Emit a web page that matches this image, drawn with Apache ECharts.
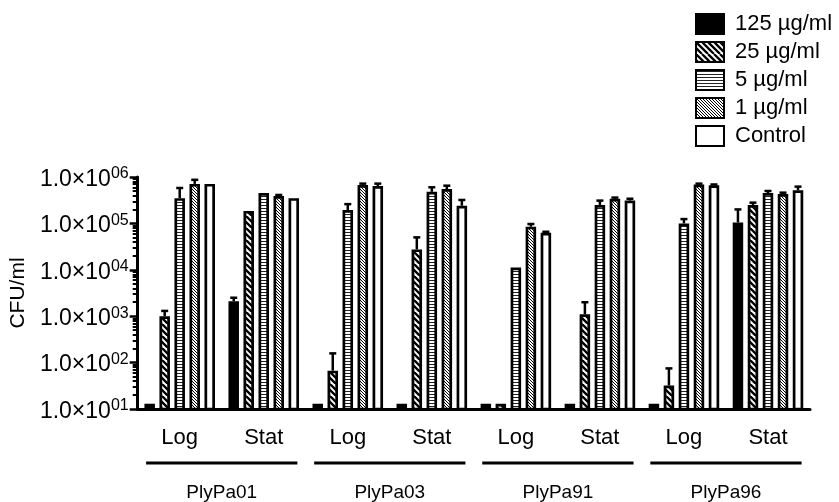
<!DOCTYPE html>
<html>
<head>
<meta charset="utf-8">
<script src="https://cdn.jsdelivr.net/npm/echarts@6/dist/echarts.min.js"></script>
<style>html,body{margin:0;padding:0;background:#fff}#c{width:839px;height:502px}</style>
</head>
<body>
<div id="c"></div>
<script>
// ---- data ----
const categories = ['Log', 'Stat', 'Log', 'Stat', 'Log', 'Stat', 'Log', 'Stat'];
const groups = ['PlyPa01', 'PlyPa03', 'PlyPa91', 'PlyPa96'];
const seriesNames = ['125 µg/ml', '25 µg/ml', '5 µg/ml', '1 µg/ml', 'Control'];
const yTickValues = [1e1, 1e2, 1e3, 1e4, 1e5, 1e6];

const c125    = [13, 2100, 13, 13, 13, 13, 13, 105000];
const c125Up  = [null, 2500, null, null, null, null, null, 200000];
const c25     = [1000, 186000, 67, 27500, 13, 1100, 32, 250000];
const c25Up   = [1300, null, 158, 50000, null, 2000, 75, 280000];
const c5      = [350000, 450000, 195000, 480000, 11200, 250000, 100000, 450000];
const c5Up    = [580000, null, 260000, 600000, null, 310000, 124000, 500000];
const c1      = [710000, 390000, 670000, 550000, 85000, 340000, 690000, 430000];
const c1Up    = [870000, 410000, 720000, 650000, 97000, 360000, 720000, 460000];
const ctrl    = [710000, 350000, 640000, 240000, 63000, 310000, 660000, 520000];
const ctrlUp  = [null, null, 720000, 320000, 66000, 340000, 690000, 620000];

const means = [c125, c25, c5, c1, ctrl];
const uppers = [c125Up, c25Up, c5Up, c1Up, ctrlUp];

// ---- styles ----
const BAR_W = 10.5, BAR_GAP = 0.43, PITCH = BAR_W * (1 + BAR_GAP);
const FONT = 'Liberation Sans, Arial, Helvetica, sans-serif';

function diagPattern(period, lw, tile) {
  const c = document.createElement('canvas');
  c.width = tile; c.height = tile;
  const ctx = c.getContext('2d');
  ctx.fillStyle = '#fff'; ctx.fillRect(0, 0, tile, tile);
  ctx.strokeStyle = '#000'; ctx.lineWidth = lw;
  ctx.beginPath();
  for (let k = -Math.ceil(tile / period) - 1; k <= Math.ceil(tile / period) + 1; k++) {
    ctx.moveTo(k * period, 0);
    ctx.lineTo(k * period + tile, tile);
  }
  ctx.stroke();
  return c;
}
function hPattern(period) {
  const c = document.createElement('canvas');
  c.width = 4; c.height = period;
  const ctx = c.getContext('2d');
  ctx.fillStyle = '#fff'; ctx.fillRect(0, 0, 4, period);
  ctx.fillStyle = '#222'; ctx.fillRect(0, 1, 4, 1);
  return c;
}
const fills = [
  '#000',
  { image: diagPattern(6, 2.3, 12), repeat: 'repeat' },
  { image: hPattern(3), repeat: 'repeat' },
  { image: diagPattern(3, 1, 12), repeat: 'repeat' },
  '#fff'
];

const minorTicks = [];
for (let e = 1; e < 6; e++) for (let m = 2; m <= 9; m++) minorTicks.push(m * Math.pow(10, e));

const errData = [];
means.forEach((arr, s) => arr.forEach((v, i) => {
  const up = uppers[s][i];
  if (up != null) errData.push([i, s, v, up]);
}));

const barSeries = seriesNames.map((name, s) => ({
  name, type: 'bar', xAxisIndex: 0, yAxisIndex: 0,
  data: means[s], barWidth: BAR_W, barGap: (BAR_GAP * 100) + '%',
  itemStyle: { color: fills[s], borderColor: '#000', borderWidth: 2.7 },
  emphasis: { disabled: true }, animation: false
}));

const chart = echarts.init(document.getElementById('c'));
chart.setOption({
  animation: false,
  grid: { left: 133, right: 29, top: 177, bottom: 93, containLabel: false },
  legend: {
    data: seriesNames, orient: 'vertical', left: 690, top: 8,
    itemWidth: 28, itemHeight: 20, itemGap: 6, icon: 'rect',
    textStyle: { fontFamily: FONT, fontSize: 22, color: '#000', padding: [0, 0, 0, 6], lineHeight: 22 },
    selectedMode: false
  },
  xAxis: [
    {
      type: 'category', data: categories, position: 'bottom',
      axisLine: { lineStyle: { color: '#000', width: 3 } },
      axisTick: { alignWithLabel: true, length: 8, lineStyle: { color: '#000', width: 2.5 } },
      axisLabel: { color: '#000', fontFamily: FONT, fontSize: 22, margin: 18, interval: 0 },
      splitLine: { show: false }
    },
    {
      type: 'category', data: groups, position: 'bottom',
      axisLine: { show: false }, axisTick: { show: false },
      axisLabel: { color: '#000', fontFamily: FONT, fontSize: 19, margin: 74, interval: 0 },
      splitLine: { show: false }
    }
  ],
  yAxis: [
    {
      type: 'log', logBase: 10, min: 10, max: 1e6, position: 'left',
      name: 'CFU/ml', nameLocation: 'middle', nameGap: 105, nameRotate: 90,
      nameTextStyle: { color: '#000', fontFamily: FONT, fontSize: 21 },
      axisLine: { show: true, lineStyle: { color: '#000', width: 3 } },
      axisTick: { show: true, length: 8, customValues: yTickValues, lineStyle: { color: '#000', width: 2.5 } },
      axisLabel: {
        customValues: yTickValues, margin: 9, color: '#000', fontFamily: FONT, fontSize: 23,
        padding: [5, 0, 0, 0],
        formatter: v => '1.0×10{s|' + String(Math.round(Math.log10(v))).padStart(2, '0') + '}',
        rich: { s: { fontSize: 16, fontFamily: FONT, color: '#000', verticalAlign: 'bottom', padding: [0, 0, 11, 0] } }
      },
      splitLine: { show: false }
    },
    {
      type: 'log', logBase: 10, min: 10, max: 1e6, position: 'left',
      axisLine: { show: false },
      axisTick: { show: true, length: 5, customValues: minorTicks, lineStyle: { color: '#000', width: 2 } },
      axisLabel: { show: false }, splitLine: { show: false }
    }
  ],
  series: barSeries.concat([
    {
      type: 'custom', name: 'err', xAxisIndex: 0, yAxisIndex: 0, z: 5,
      data: errData, silent: true,
      renderItem: (params, api) => {
        const cat = api.value(0), s = api.value(1);
        const p0 = api.coord([cat, api.value(2)]);
        const p1 = api.coord([cat, api.value(3)]);
        const x = p0[0] + (s - 2) * PITCH;
        const st = { stroke: '#000', lineWidth: 2.5 };
        return { type: 'group', children: [
          { type: 'line', shape: { x1: x, y1: p0[1], x2: x, y2: p1[1] }, style: st },
          { type: 'line', shape: { x1: x - 3.5, y1: p1[1], x2: x + 3.5, y2: p1[1] }, style: st }
        ] };
      }
    },
    {
      type: 'custom', name: 'grp', xAxisIndex: 1, yAxisIndex: 0, z: 5,
      data: groups.map((g, i) => [i, 10]), silent: true, clip: false,
      renderItem: (params, api) => {
        const p = api.coord([api.value(0), api.value(1)]);
        const w = api.size([1, 0])[0];
        const y = p[1] + 54;
        return { type: 'line', shape: { x1: p[0] - w * 0.45, y1: y, x2: p[0] + w * 0.45, y2: y },
          style: { stroke: '#000', lineWidth: 3 } };
      }
    }
  ])
});
</script>
</body>
</html>
